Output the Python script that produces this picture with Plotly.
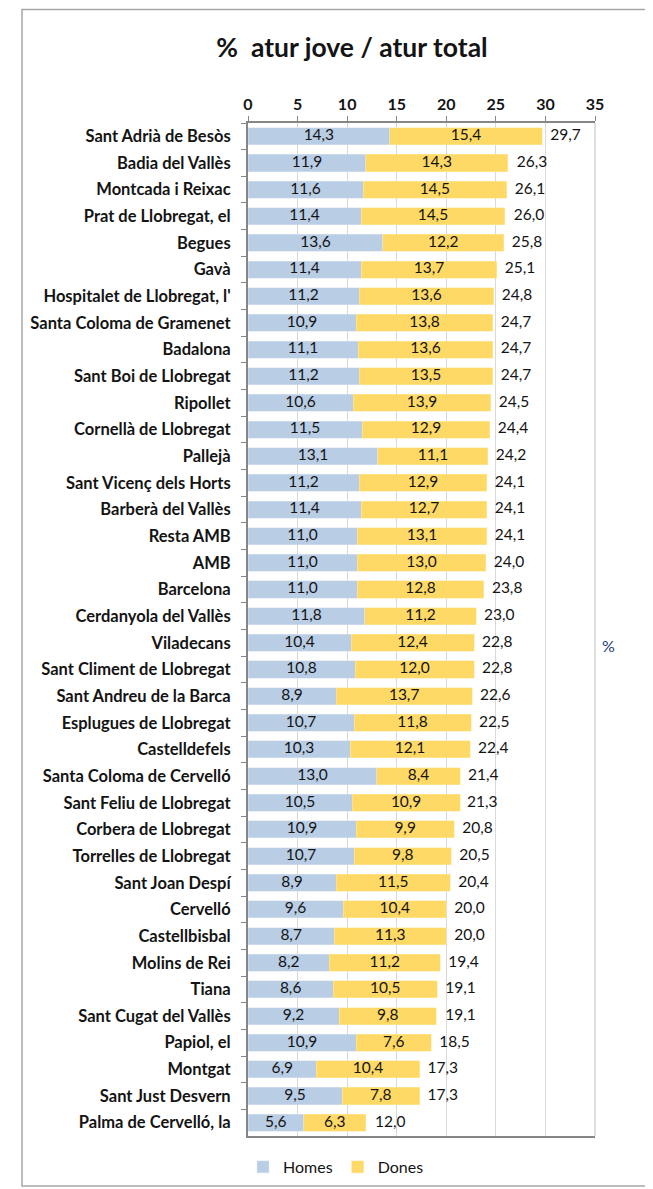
import plotly.graph_objects as go

municipis = [
    "Sant Adrià de Besòs", "Badia del Vallès", "Montcada i Reixac", "Prat de Llobregat, el",
    "Begues", "Gavà", "Hospitalet de Llobregat, l'", "Santa Coloma de Gramenet",
    "Badalona", "Sant Boi de Llobregat", "Ripollet", "Cornellà de Llobregat",
    "Pallejà", "Sant Vicenç dels Horts", "Barberà del Vallès", "Resta AMB",
    "AMB", "Barcelona", "Cerdanyola del Vallès", "Viladecans",
    "Sant Climent de Llobregat", "Sant Andreu de la Barca", "Esplugues de Llobregat", "Castelldefels",
    "Santa Coloma de Cervelló", "Sant Feliu de Llobregat", "Corbera de Llobregat", "Torrelles de Llobregat",
    "Sant Joan Despí", "Cervelló", "Castellbisbal", "Molins de Rei",
    "Tiana", "Sant Cugat del Vallès", "Papiol, el", "Montgat",
    "Sant Just Desvern", "Palma de Cervelló, la",
]
homes = [14.3, 11.9, 11.6, 11.4, 13.6, 11.4, 11.2, 10.9, 11.1, 11.2, 10.6, 11.5, 13.1, 11.2, 11.4, 11.0,
         11.0, 11.0, 11.8, 10.4, 10.8, 8.9, 10.7, 10.3, 13.0, 10.5, 10.9, 10.7, 8.9, 9.6, 8.7, 8.2,
         8.6, 9.2, 10.9, 6.9, 9.5, 5.6]
dones = [15.4, 14.3, 14.5, 14.5, 12.2, 13.7, 13.6, 13.8, 13.6, 13.5, 13.9, 12.9, 11.1, 12.9, 12.7, 13.1,
         13.0, 12.8, 11.2, 12.4, 12.0, 13.7, 11.8, 12.1, 8.4, 10.9, 9.9, 9.8, 11.5, 10.4, 11.3, 11.2,
         10.5, 9.8, 7.6, 10.4, 7.8, 6.3]
total = [29.7, 26.3, 26.1, 26.0, 25.8, 25.1, 24.8, 24.7, 24.7, 24.7, 24.5, 24.4, 24.2, 24.1, 24.1, 24.1,
         24.0, 23.8, 23.0, 22.8, 22.8, 22.6, 22.5, 22.4, 21.4, 21.3, 20.8, 20.5, 20.4, 20.0, 20.0, 19.4,
         19.1, 19.1, 18.5, 17.3, 17.3, 12.0]
x_ticks = [0, 5, 10, 15, 20, 25, 30, 35]

def fmt(v):
    return f"{v:.1f}".replace(".", ",")

FONT = "Lato, Carlito, Calibri, sans-serif"
OFF = 8  # page body margin offset
W, H = 645, 1181
L, T = 248 - OFF, 123 - OFF
R = W - (595 - OFF)
B = H - (1136 - OFF)
TXT = "#141414"
LBL = 15.5

fig = go.Figure()
fig.add_trace(go.Bar(
    y=municipis, x=homes, orientation="h", name="Homes",
    marker=dict(color="#B9CDE5", line=dict(color="#DCE6F1", width=0.5)),
))
fig.add_trace(go.Bar(
    y=municipis, x=dones, orientation="h", name="Dones",
    marker=dict(color="#FFD966", line=dict(color="#FFE9A6", width=0.5)),
))
# segment labels, centred in each stacked segment
fig.add_trace(go.Scatter(
    y=municipis, x=[h / 2 for h in homes], mode="text", showlegend=False, hoverinfo="skip",
    text=[fmt(v) for v in homes], textposition="middle center",
    textfont=dict(family=FONT, size=LBL, color=TXT),
))
fig.add_trace(go.Scatter(
    y=municipis, x=[h + d / 2 for h, d in zip(homes, dones)], mode="text", showlegend=False,
    hoverinfo="skip", text=[fmt(v) for v in dones], textposition="middle center",
    textfont=dict(family=FONT, size=LBL, color=TXT),
))
fig.add_trace(go.Scatter(
    y=municipis, x=total, mode="text", showlegend=False, hoverinfo="skip",
    text=["  " + fmt(v) for v in total], textposition="middle right",
    textfont=dict(family=FONT, size=LBL, color=TXT),
))

# screen-pixel -> paper coordinates
px_x = lambda p: (p - OFF - L) / (W - L - R)
px_y = lambda p: 1 - (p - OFF - T) / (H - T - B)

fig.update_layout(
    width=W, height=H,
    margin=dict(l=L, r=R, t=T, b=B, autoexpand=False),
    barmode="stack", bargap=0.36,
    plot_bgcolor="white", paper_bgcolor="white",
    font=dict(family=FONT, size=15, color=TXT),
    title=dict(text="%  atur jove / atur total", x=(352 - OFF) / W, xanchor="center",
               y=1 - (48 - OFF) / H, yanchor="middle",
               font=dict(family=FONT, size=26.5, color=TXT, weight="bold")),
    legend=dict(orientation="h", x=px_x(336), xanchor="center", y=px_y(1167), yanchor="middle",
                font=dict(family=FONT, size=16), traceorder="normal", itemwidth=30),
    xaxis=dict(side="top", range=[0, 35], tickvals=x_ticks, ticktext=[str(t) for t in x_ticks],
               tickfont=dict(family=FONT, size=16, color=TXT, weight="bold"), showgrid=True,
               gridcolor="#D9D9D9", gridwidth=1, zeroline=False, showline=True, linecolor="#868686",
               linewidth=1.5, mirror=True, ticks="outside", ticklen=5, tickcolor="#868686",
               automargin=False),
    yaxis=dict(range=[len(municipis) - 0.5, -0.5], tickfont=dict(family=FONT, size=16.5, color=TXT, weight="bold"),
               showline=True, linecolor="#868686", linewidth=2, mirror=False,
               ticks="outside", tickson="boundaries", ticklen=5, tickcolor="#868686",
               ticksuffix="   ", showgrid=False, automargin=False),
    annotations=[dict(text="%", x=px_x(617), y=px_y(645), xref="paper", yref="paper",
                      showarrow=False, font=dict(family=FONT, size=16, color="#1F3B7A"))],
    shapes=[
        dict(type="rect", xref="paper", yref="paper", x0=px_x(22), x1=px_x(646), y0=px_y(1186), y1=px_y(9.5),
             line=dict(color="#A6A6A6", width=1.5), layer="below"),
        dict(type="line", xref="paper", yref="paper", x0=1, x1=1, y0=0, y1=1,
             line=dict(color="#BFBFBF", width=1)),
    ],
)
fig.write_html("out.html")
